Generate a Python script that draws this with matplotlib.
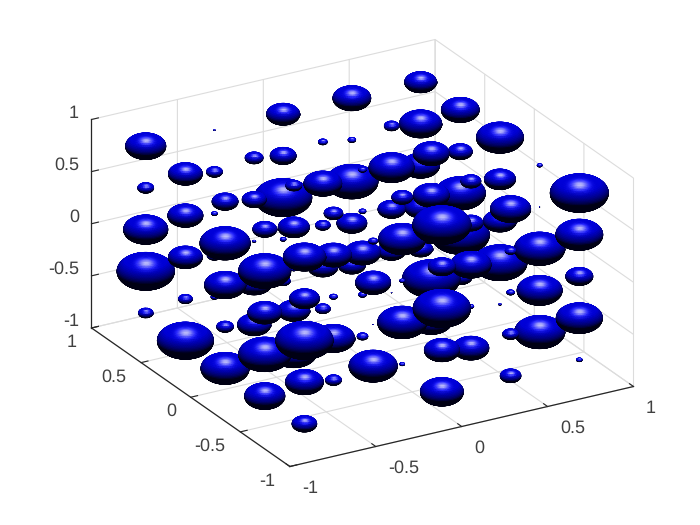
import numpy as np
import matplotlib
matplotlib.use("Agg")
import matplotlib.pyplot as plt
from mpl_toolkits.mplot3d import proj3d

plt.rcParams['font.family'] = ['Liberation Sans', 'DejaVu Sans']
plt.rcParams['text.hinting'] = 'no_hinting'

AZ = -30.0
EL = 37.5
GRID_COLOR = '#dcdcdc'
AXIS_COLOR = '#262626'

grid_pos = [-0.8, -0.4, 0.0, 0.4, 0.8]
ticks = [-1, -0.5, 0, 0.5, 1]
tick_labels = ['-1', '-0.5', '0', '0.5', '1']

# sphere radii in 1/1000 axis units, rows are y = -0.8..0.8, columns x = -0.8..0.8
r_z_m08 = [[63, 0, 109, 53, 15],
           [102, 41, 13, 91, 127],
           [122, 117, 28, 107, 8],
           [142, 84, 38, 3, 61],
           [38, 18, 36, 69, 61]]
r_z_m04 = [[96, 122, 89, 41, 117],
           [132, 107, 124, 15, 114],
           [43, 81, 20, 145, 137],
           [36, 91, 76, 71, 147],
           [145, 38, 15, 76, 81]]
r_z_00 = [[145, 2, 145, 20, 69],
          [86, 20, 13, 102, 127],
          [104, 15, 91, 51, 84],
          [86, 10, 38, 69, 127],
          [112, 15, 145, 132, 96]]
r_z_04 = [[76, 89, 69, 28, 119],
          [132, 91, 119, 61, 2],
          [127, 79, 18, 91, 79],
          [89, 61, 96, 114, 61],
          [41, 41, 66, 20, 107]]
r_z_08 = [[107, 23, 147, 102, 147],
          [61, 48, 53, 51, 13],
          [66, 41, 20, 91, 119],
          [86, 46, 23, 38, 96],
          [102, 5, 84, 96, 81]]
layers = [r_z_m08, r_z_m04, r_z_00, r_z_04, r_z_08]


def sphere_colors(X, Y, Z):
    """phong style shading, light comes from above the camera"""
    az, el = np.radians(AZ), np.radians(EL)
    view = np.array([np.sin(az)*np.cos(el), -np.cos(az)*np.cos(el), np.sin(el)])
    up = np.array([-np.sin(az)*np.sin(el), np.cos(az)*np.sin(el), np.cos(el)])
    light = 0.79*up + 0.62*view
    half = light + view
    half = half/np.linalg.norm(half)
    nl = np.clip(X*light[0] + Y*light[1] + Z*light[2], 0, 1)
    nh = np.clip(X*half[0] + Y*half[1] + Z*half[2], 0, 1)
    spec = 0.75*nh**30
    blue = np.clip(0.08 + 1.0*nl**0.8, 0, 0.85)
    rgba = np.ones(X.shape + (4,))
    rgba[..., 0] = np.clip(spec, 0, 1)
    rgba[..., 1] = np.clip(spec, 0, 1)
    rgba[..., 2] = np.clip(blue + spec, 0, 1)
    return rgba


fig = plt.figure(figsize=(7, 5.25), dpi=100)
ax = fig.add_subplot(projection='3d', proj_type='ortho', computed_zorder=False)
ax.view_init(elev=EL, azim=AZ - 90)
ax.set_box_aspect((1, 1, 1))
ax.set_xlim(-1, 1, view_margin=0)
ax.set_ylim(-1, 1, view_margin=0)
ax.set_zlim(-1, 1, view_margin=0)

# matlab stretches the box to fill the axes, so stretch the 3d axes to the same corners
M = ax.get_proj()
vx, vy, _ = proj3d.proj_transform(np.array([-1., 1, -1, 1]), np.array([-1., -1, 1, 1]),
                                  np.array([-1., -1, -1, 1]), M)
sx = (633.5 - 91.5)/(vx[1] - vx[2])
sy = (466.5 - 39.5)/(vy[3] - vy[0])
lim = ax.viewLim
left = 633.5 - (vx[1] - lim.x0)*sx
bottom = (525 - 466.5) - (vy[0] - lim.y0)*sy
ax.set_position([left/700, bottom/525, (lim.x1 - lim.x0)*sx/700, (lim.y1 - lim.y0)*sy/525])
ax.apply_aspect = lambda position=None: None

az, el = np.radians(AZ), np.radians(EL)
view_dir = np.array([np.sin(az)*np.cos(el), -np.cos(az)*np.cos(el), np.sin(el)])

for k, z0 in enumerate(grid_pos):
    for j, y0 in enumerate(grid_pos):
        for i, x0 in enumerate(grid_pos):
            r = layers[k][j][i]/1000
            if r == 0:
                continue
            n = int(max(8, r*260))
            u = np.linspace(0, 2*np.pi, 2*n + 1)
            v = np.linspace(0, np.pi, n + 1)
            X = np.outer(np.cos(u), np.sin(v))
            Y = np.outer(np.sin(u), np.sin(v))
            Z = np.outer(np.ones_like(u), np.cos(v))
            depth = view_dir @ np.array([x0, y0, z0])
            ax.plot_surface(x0 + r*X, y0 + r*Y, z0 + r*Z, facecolors=sphere_colors(X, Y, Z),
                            rstride=1, cstride=1, shade=False, linewidth=0.4 if r > 0.01 else 0.1,
                            antialiased=True, zorder=10 + depth)

for axis in (ax.xaxis, ax.yaxis, ax.zaxis):
    axis.set_pane_color((1, 1, 1, 0))
    axis.pane.set_edgecolor(GRID_COLOR)
    axis.line.set_color(AXIS_COLOR)
    axis.line.set_linewidth(0.9)
    axis._axinfo['grid'].update(color=GRID_COLOR, linewidth=0.8)
    axis._axinfo['tick'].update(inward_factor=0.0, outward_factor=0.25)
    axis._axinfo['tick']['color'] = AXIS_COLOR

ax.set_xticks(ticks, tick_labels, ha='left', va='center')
ax.set_yticks(ticks, tick_labels, ha='right', va='center_baseline')
ax.set_zticks(ticks)
ax.tick_params(labelsize=13, labelcolor='#404040', color=AXIS_COLOR)
ax.xaxis.set_tick_params(pad=5)
ax.yaxis.set_tick_params(pad=1)
ax.zaxis.set_tick_params(label1On=False)

# z labels sit higher than the native 3d tick labels can be placed
for t, lbl in zip(ticks, tick_labels):
    tx, ty, _ = proj3d.proj_transform(-1, 1.125, t - 0.02, M)
    ax.text2D(tx, ty, lbl, transform=ax.transData, ha='right', va='center',
              fontsize=13, color='#404040')

fig.savefig('out.png', dpi=100)
